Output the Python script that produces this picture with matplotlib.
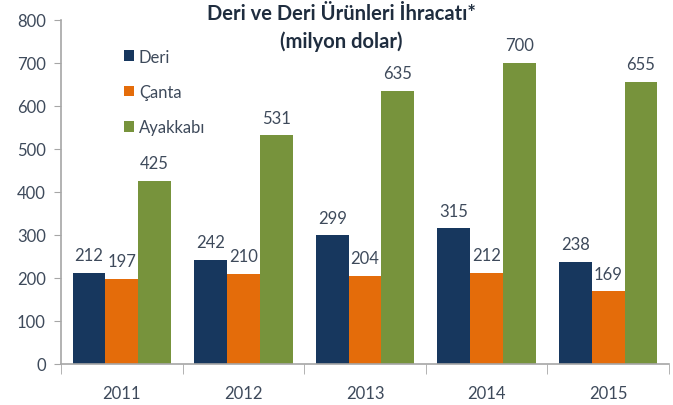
import matplotlib
matplotlib.use("Agg")
import matplotlib.pyplot as plt
import numpy as np

plt.rcParams['font.family'] = ['Lato', 'DejaVu Sans']

years = ['2011', '2012', '2013', '2014', '2015']
deri = [212, 242, 299, 315, 238]
canta = [197, 210, 204, 212, 169]
ayakkabi = [425, 531, 635, 700, 655]
series_names = ['Deri', 'Çanta', 'Ayakkabı']
colors = ['#17375E', '#E46C0A', '#77933C']
title = 'Deri ve Deri Ürünleri İhracatı*\n(milyon dolar)'

txt = '#3E4A5B'
axcol = '#A6A6A6'

fig = plt.figure(figsize=(6.73, 4.06), dpi=100)
ax = fig.add_axes([0.0906, 0.101, 0.9034, 0.848])

x = np.arange(len(years))
w = 0.27
for i, (vals, name, c) in enumerate(zip([deri, canta, ayakkabi], series_names, colors)):
    bars = ax.bar(x + (i - 1) * w, vals, width=w, color=c, label=name, zorder=2)
    for b, v in zip(bars, vals):
        ax.annotate(str(v), (b.get_x() + b.get_width() / 2, v), xytext=(0, 7),
                    textcoords='offset points', ha='center', va='bottom',
                    fontsize=12, color=txt)

ax.set_xlim(-0.5, len(years) - 0.5)
ax.set_ylim(0, 800)
ax.set_yticks(range(0, 801, 100))
ax.tick_params(axis='y', direction='out', length=5, color=axcol, labelsize=12,
               labelcolor=txt, pad=6)
ax.set_xticks(x)
ax.set_xticklabels(years)
ax.tick_params(axis='x', length=0, labelsize=12, labelcolor=txt, pad=15)
ax.set_xticks(np.arange(-0.5, len(years) + 0.5, 1), minor=True)
ax.tick_params(axis='x', which='minor', direction='out', length=7, color=axcol)

for s in ['top', 'right']:
    ax.spines[s].set_visible(False)
for s in ['left', 'bottom']:
    ax.spines[s].set_color(axcol)
    ax.spines[s].set_linewidth(1.2)

leg = ax.legend(loc='upper left', bbox_to_anchor=(0.092, 0.935), frameon=False,
                fontsize=12, handlelength=0.62, handleheight=0.62,
                handletextpad=0.3, labelspacing=1.15, borderaxespad=0)
for t in leg.get_texts():
    t.set_color(txt)

fig.text(0.507, 0.99, title, ha='center', va='top', fontsize=14.5,
         fontweight='bold', color='#1F2D3F', linespacing=1.45)

fig.savefig('out.png', dpi=100)
